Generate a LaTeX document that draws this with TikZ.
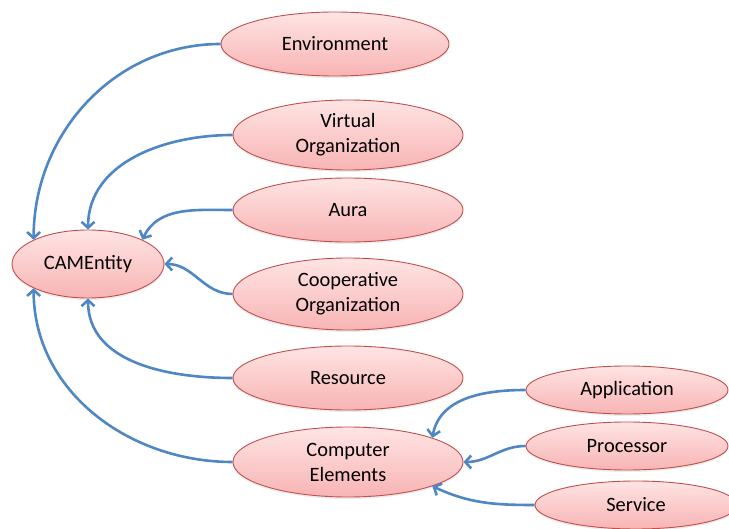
\documentclass[tikz,border=0pt]{standalone}
\usepackage{fontspec}
\setmainfont{Carlito}
\usetikzlibrary{shapes.geometric,arrows.meta,shadows}
\definecolor{linkblue}{HTML}{4F86C4}
\definecolor{entred}{HTML}{C0504D}
\definecolor{entlight}{HTML}{FFE4E4}
\definecolor{entdark}{HTML}{F8B4B4}

\begin{document}
\begin{tikzpicture}[x=1pt, y=1pt,
    ent/.style={ellipse, draw=entred, line width=0.9pt, top color=entlight, bottom color=entdark,
        inner sep=0pt, align=center, font=\fontsize{20.4}{25}\selectfont,
        drop shadow={shadow xshift=0pt, shadow yshift=-2pt, opacity=0.15}},
    link/.style={draw=linkblue, line width=2.6pt, -{Straight Barb[length=6pt,width=13pt]}}]
            \useasboundingbox (0,0) rectangle (729,528);
            \clip (0,0) rectangle (729,528);
            % entities
            \node[ent, minimum width=152pt, minimum height=68pt] (cam) at (88,264) {CAMEntity};
            \node[ent, minimum width=228pt, minimum height=64pt] (env) at (335,484) {Environment};
            \node[ent, minimum width=230pt, minimum height=70pt] (vo) at (348,393) {Virtual\\Organization};
            \node[ent, minimum width=230pt, minimum height=64pt] (aura) at (348,318) {Aura};
            \node[ent, minimum width=230pt, minimum height=72pt] (coop) at (348,234) {Cooperative\\Organization};
            \node[ent, minimum width=230pt, minimum height=64pt] (res) at (348,150) {Resource};
            \node[ent, minimum width=230pt, minimum height=70pt] (comp) at (348,66) {Computer\\Elements};
            \node[ent, minimum width=202pt, minimum height=48pt] (app) at (627,138) {Application};
            \node[ent, minimum width=202pt, minimum height=48pt] (proc) at (627,82) {Processor};
            \node[ent, minimum width=202pt, minimum height=48pt] (serv) at (636,23) {Service};
            % links to CAMEntity
            \draw[link] (env.west) to[out=180, in=90] (cam.156);
            \draw[link] (vo.west) to[out=180, in=90] (cam.north);
            \draw[link] (aura.west) to[out=180, in=65] (cam.24);
            \draw[link] (coop.west) to[out=180, in=0] (cam.east);
            \draw[link] (res.west) to[out=180, in=-90] (cam.south);
            \draw[link] (comp.west) to[out=180, in=-90] (cam.204);
            % links to Computer Elements
            \draw[link] (app.west) to[out=180, in=80] (comp.16);
            \draw[link] (proc.west) to[out=180, in=0] (comp.east);
            \draw[link] (serv.west) to[out=180, in=-25] (comp.-16);
\end{tikzpicture}
\end{document}
